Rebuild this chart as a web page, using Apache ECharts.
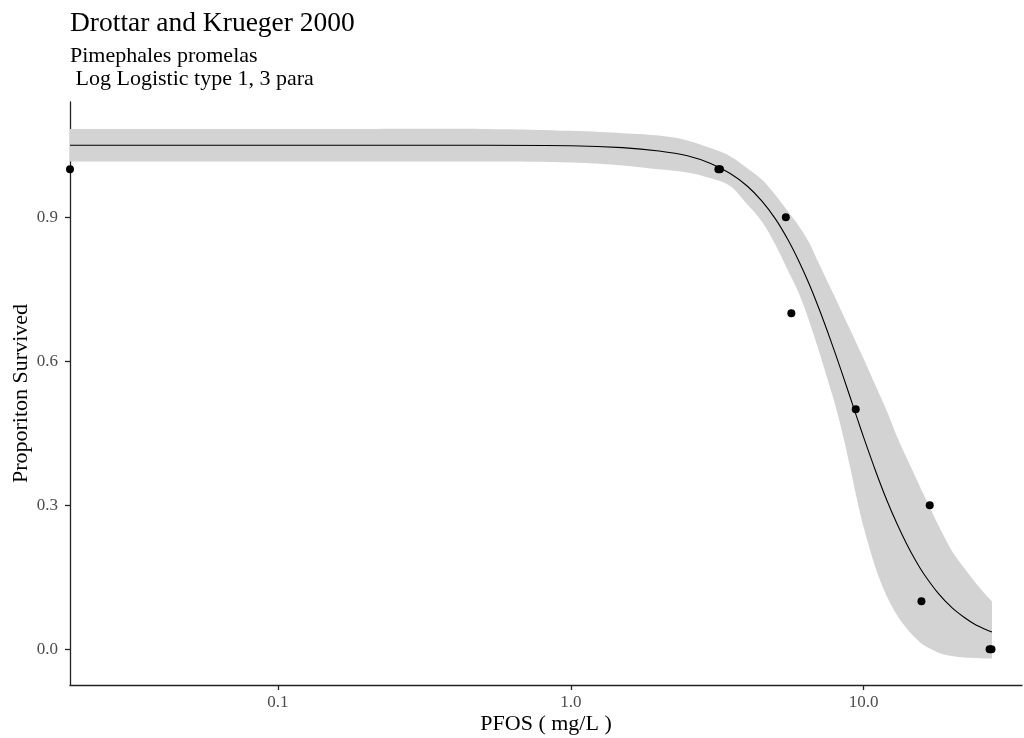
<!DOCTYPE html>
<html>
<head>
<meta charset="utf-8">
<title>Drottar and Krueger 2000</title>
<script src="https://cdn.jsdelivr.net/npm/echarts@6/dist/echarts.min.js"></script>
<style>
  html, body { margin: 0; padding: 0; background: #ffffff; }
  #chart { width: 1024px; height: 738px; }
</style>
</head>
<body>
<div id="chart"></div>
<script>
// Observed survival at each PFOS concentration (mg/L)
const obsConc = [0.0195, 3.19, 3.23, 5.42, 5.66, 9.39, 15.74, 16.8, 26.9, 27.3];
const obsSurv = [1.0, 1.0, 1.0, 0.9, 0.7, 0.5, 0.1, 0.3, 0.0, 0.0];

// Fitted log-logistic curve with its confidence band
const fitConc = [0.0195, 0.05, 0.1, 0.2, 0.5, 1.0, 1.5, 2.0, 2.5, 3.0, 3.5, 4.0, 4.5, 5.0, 5.5, 6.0,
  6.5, 7.0, 7.5, 8.0, 8.5, 9.0, 9.5, 10, 11, 12, 13, 14, 15, 16, 18, 20, 22, 24, 26, 27.4];
const fitSurv = [1.050, 1.050, 1.050, 1.050, 1.050, 1.049, 1.045, 1.038, 1.028, 1.012, 0.991, 0.965,
  0.933, 0.896, 0.854, 0.809, 0.762, 0.713, 0.664, 0.616, 0.569, 0.524, 0.481, 0.441, 0.370, 0.310,
  0.261, 0.220, 0.186, 0.158, 0.116, 0.087, 0.067, 0.052, 0.042, 0.036];
const upperCI = [1.084, 1.084, 1.084, 1.084, 1.084, 1.080, 1.075, 1.070, 1.060, 1.044, 1.027, 1.002,
  0.978, 0.946, 0.913, 0.882, 0.848, 0.806, 0.767, 0.732, 0.697, 0.665, 0.634, 0.605, 0.548, 0.496,
  0.443, 0.399, 0.360, 0.323, 0.258, 0.205, 0.170, 0.140, 0.115, 0.100];
const lowerCI = [1.016, 1.016, 1.016, 1.016, 1.016, 1.014, 1.008, 1.000, 0.993, 0.981, 0.965, 0.927,
  0.890, 0.842, 0.790, 0.742, 0.685, 0.625, 0.565, 0.508, 0.445, 0.377, 0.310, 0.254, 0.168, 0.110,
  0.071, 0.044, 0.024, 0.009, -0.007, -0.014, -0.017, -0.018, -0.019, -0.019];

// Axis tick positions
const xTicks = [0.1, 1, 10];
const yTicks = [0, 0.3, 0.6, 0.9];

const serif = '"Liberation Serif", "Times New Roman", serif';
const axisColor = '#222222';

const fitPts = fitConc.map((x, i) => [x, fitSurv[i]]);
const obsPts = obsConc.map((x, i) => [x, obsSurv[i]]);

// Catmull-Rom spline through pixel points, as cubic Bezier path commands
function splineCommands(pts) {
  let d = '';
  for (let i = 0; i < pts.length - 1; i++) {
    const p0 = pts[i - 1] || pts[i];
    const p1 = pts[i];
    const p2 = pts[i + 1];
    const p3 = pts[i + 2] || p2;
    const c1x = p1[0] + (p2[0] - p0[0]) / 6, c1y = p1[1] + (p2[1] - p0[1]) / 6;
    const c2x = p2[0] - (p3[0] - p1[0]) / 6, c2y = p2[1] - (p3[1] - p1[1]) / 6;
    d += ' C' + c1x + ',' + c1y + ' ' + c2x + ',' + c2y + ' ' + p2[0] + ',' + p2[1];
  }
  return d;
}

// Confidence ribbon: upper edge left to right, lower edge back right to left
function renderRibbon(params, api) {
  const up = fitConc.map((x, i) => api.coord([x, upperCI[i]]));
  const lo = fitConc.map((x, i) => api.coord([x, lowerCI[i]])).reverse();
  const d = 'M' + up[0][0] + ',' + up[0][1] + splineCommands(up) +
    ' L' + lo[0][0] + ',' + lo[0][1] + splineCommands(lo) + ' Z';
  return {
    type: 'path',
    shape: { pathData: d },
    style: { fill: '#d3d3d3', stroke: null }
  };
}

const chart = echarts.init(document.getElementById('chart'), null, { renderer: 'canvas' });

chart.setOption({
  animation: false,
  backgroundColor: '#ffffff',
  title: [
    {
      text: 'Drottar and Krueger 2000',
      left: 65,
      top: 5,
      textStyle: { fontFamily: serif, fontSize: 27.5, fontWeight: 'normal', color: '#000000' }
    },
    {
      text: 'Pimephales promelas\n Log Logistic type 1, 3 para',
      left: 65,
      top: 39,
      textStyle: { fontFamily: serif, fontSize: 22, lineHeight: 23.5, fontWeight: 'normal', color: '#000000' }
    }
  ],
  grid: {
    left: 70, right: 2, top: 102, bottom: 53,
    containLabel: false,
    outerBoundsMode: 'none'
  },
  xAxis: {
    type: 'log',
    logBase: 10,
    min: 0.0195,
    max: 34.7,
    name: 'PFOS ( mg/L )',
    nameLocation: 'middle',
    nameGap: 28,
    nameMoveOverlap: false,
    nameTextStyle: { fontFamily: serif, fontSize: 22, color: '#000000' },
    axisLine: { show: true, onZero: false, lineStyle: { color: axisColor, width: 1.3 } },
    axisTick: { show: true, customValues: xTicks, length: 5, lineStyle: { color: axisColor, width: 1.3 } },
    axisLabel: {
      customValues: xTicks,
      formatter: v => Number(v).toFixed(1),
      fontFamily: serif, fontSize: 17, color: '#4d4d4d', margin: 9
    },
    splitLine: { show: false },
    minorTick: { show: false },
    minorSplitLine: { show: false }
  },
  yAxis: {
    type: 'value',
    min: -0.0742,
    max: 1.14,
    name: 'Proporiton Survived',
    nameLocation: 'middle',
    nameGap: 38,
    nameMoveOverlap: false,
    nameTextStyle: { fontFamily: serif, fontSize: 22, color: '#000000' },
    axisLine: { show: true, onZero: false, lineStyle: { color: axisColor, width: 1.3 } },
    axisTick: { show: true, customValues: yTicks, length: 5, lineStyle: { color: axisColor, width: 1.3 } },
    axisLabel: {
      customValues: yTicks,
      formatter: v => Number(v).toFixed(1),
      fontFamily: serif, fontSize: 17, color: '#4d4d4d', margin: 12
    },
    splitLine: { show: false }
  },
  series: [
    {
      name: 'ribbon',
      type: 'custom',
      coordinateSystem: 'cartesian2d',
      data: [[fitConc[0], lowerCI[0]]],
      renderItem: renderRibbon,
      clip: true,
      silent: true,
      z: 1
    },
    {
      name: 'fit',
      type: 'line',
      data: fitPts,
      symbol: 'none',
      smooth: 0.3,
      lineStyle: { color: '#000000', width: 1.1 },
      z: 3
    },
    {
      name: 'observed',
      type: 'scatter',
      data: obsPts,
      symbol: 'circle',
      symbolSize: 8,
      itemStyle: { color: '#000000', opacity: 1 },
      z: 4
    }
  ]
});
</script>
</body>
</html>
